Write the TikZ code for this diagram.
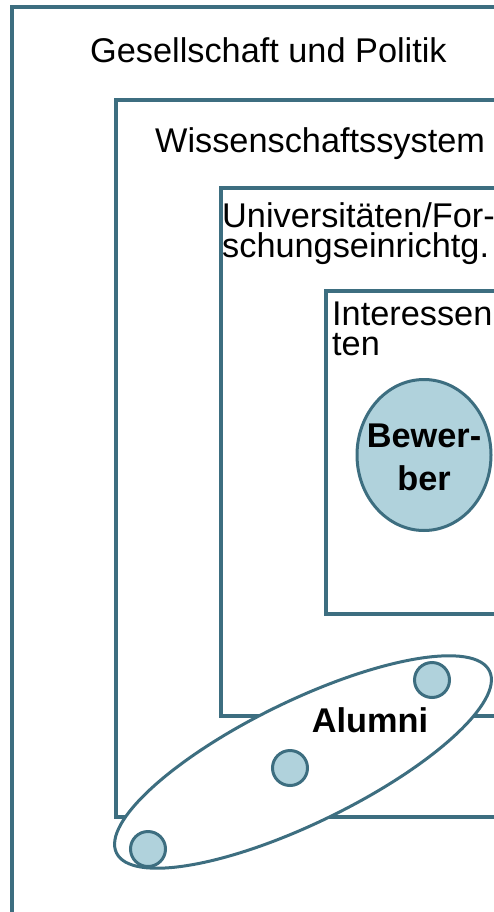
\documentclass[tikz,border=0pt]{standalone}
\usepackage{fontspec}
\setmainfont{Liberation Sans}
\usetikzlibrary{shapes.geometric}
\definecolor{RingTeal}{HTML}{3D6E80}
\definecolor{RingFill}{HTML}{B0D2DC}
\newcommand{\ringfont}{\fontsize{34.3}{29.5}\selectfont}

\begin{document}
\begin{tikzpicture}[x=1pt, y=-1pt,
    frame/.style={draw=RingTeal, line width=4pt},
    frametext/.style={anchor=base west, inner sep=0pt, align=left, font=\ringfont},
    member/.style={circle, draw=RingTeal, fill=RingFill, line width=3pt, inner sep=0pt, minimum size=35pt}]

    \useasboundingbox (0,0) rectangle (494,912);
    \clip (0,0) rectangle (494,912);

    % ========== NESTED FRAMES ==========
    % (base of a two-line label sits on its last line)
    \draw[frame] (12,7.5) rectangle (620,1000);
    \node[frametext] (society) at (90,63) {Gesellschaft und Politik};

    \draw[frame] (116,100) rectangle (620,817);
    \node[frametext] (science) at (155,153) {Wissenschaftssystem};

    \draw[frame] (220.5,188) rectangle (620,716);
    \node[frametext] (univ) at (222,257) {Universitäten/For-\\schungseinrichtg.};

    \draw[frame] (325.5,291) rectangle (620,614);
    \node[frametext] (prospects) at (332,355) {Interessen\\ten};

    % Applicants
    \node[ellipse, draw=RingTeal, fill=RingFill, line width=3pt, inner sep=0pt,
          minimum width=134pt, minimum height=151pt] (applicants) at (424,455) {};
    \node[anchor=base, inner sep=0pt, align=center,
          font=\fontsize{34.3}{43}\selectfont\bfseries] (applicantstext) at (424,490) {Bewer-\\ber};

    % ========== ALUMNI ==========
    \node[ellipse, draw=RingTeal, fill=white, line width=3pt, inner sep=0pt,
          minimum width=415pt, minimum height=122pt, rotate=26] (alumniring) at (303,762) {};
    \node[anchor=base, inner sep=0pt, font=\ringfont\bfseries] (alumni) at (370,732) {Alumni};

    \node[member] (alum1) at (148,849) {};
    \node[member] (alum2) at (290,768) {};
    \node[member] (alum3) at (432,680) {};

\end{tikzpicture}
\end{document}
